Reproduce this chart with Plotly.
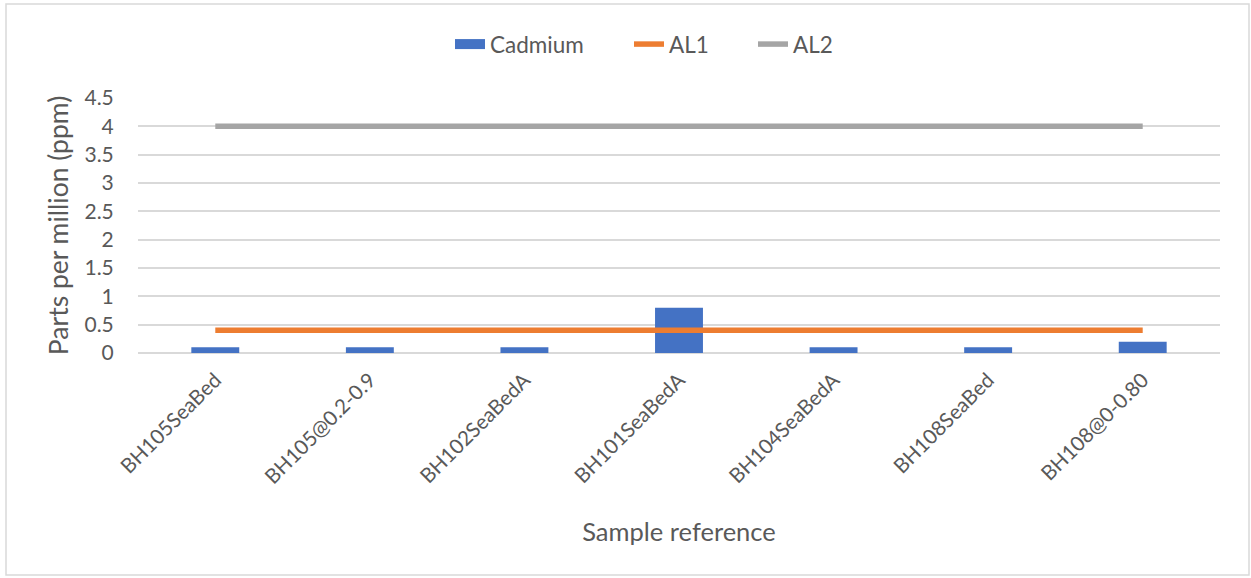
import plotly.graph_objects as go

samples = ["BH105SeaBed", "BH105@0.2-0.9", "BH102SeaBedA", "BH101SeaBedA",
           "BH104SeaBedA", "BH108SeaBed", "BH108@0-0.80"]
cadmium = [0.1, 0.1, 0.1, 0.8, 0.1, 0.1, 0.2]
al1 = [0.4, 0.4, 0.4, 0.4, 0.4, 0.4, 0.4]
al2 = [4, 4, 4, 4, 4, 4, 4]
y_ticks = [0, 0.5, 1, 1.5, 2, 2.5, 3, 3.5, 4, 4.5]

FONT = "Lato, 'Open Sans', sans-serif"
TXT = "#595959"
BLUE, ORANGE, GREY = "#4472C4", "#ED7D31", "#A5A5A5"

PLOT_L, PLOT_W = 138, 1082


def px_to_paper(px):
    return (px - PLOT_L) / PLOT_W


fig = go.Figure()
fig.add_trace(go.Bar(x=samples, y=cadmium, name="Cadmium", showlegend=False,
                     marker=dict(color=BLUE, line=dict(width=0)), width=0.31))
# wide swatch for the bar series in its legend
fig.add_trace(go.Scatter(x=[None], y=[None], name="Cadmium", mode="lines",
                         line=dict(color=BLUE, width=10), legend="legend"))
fig.add_trace(go.Scatter(x=samples, y=al1, name="AL1", mode="lines",
                         line=dict(color=ORANGE, width=5.5), legend="legend2"))
fig.add_trace(go.Scatter(x=samples, y=al2, name="AL2", mode="lines",
                         line=dict(color=GREY, width=5.5), legend="legend3"))

# outer chart border
fig.add_shape(type="rect", xref="paper", yref="paper",
              x0=-0.1220, x1=1.0268, y0=-0.8706, y1=1.3686,
              line=dict(color="#D9D9D9", width=1.5))

leg_common = dict(orientation="h", xanchor="left", y=1.21, yanchor="middle",
                  font=dict(size=22.5, color=TXT), bgcolor="rgba(0,0,0,0)")

fig.update_layout(
    width=1251, height=578,
    margin=dict(l=PLOT_L, r=31, t=98, b=225, autoexpand=False),
    paper_bgcolor="white", plot_bgcolor="white",
    font=dict(family=FONT, color=TXT, size=18),
    showlegend=True,
    legend=dict(x=px_to_paper(450), **leg_common),
    legend2=dict(x=px_to_paper(629), **leg_common),
    legend3=dict(x=px_to_paper(753), **leg_common),
    bargap=0.69,
)
fig.update_xaxes(
    type="category", tickangle=-45, tickfont=dict(size=20.5, color=TXT),
    showgrid=False, showline=False, ticks="outside", ticklen=6, tickcolor="rgba(0,0,0,0)",
    title=dict(text="Sample reference", font=dict(size=25.5, color=TXT), standoff=36),
)
fig.update_yaxes(
    range=[0, 4.5], tickvals=y_ticks, ticktext=[f"{v:g}" for v in y_ticks],
    tickfont=dict(size=21, color=TXT), showgrid=True, gridcolor="#D9D9D9", gridwidth=1.5,
    zeroline=True, zerolinecolor="#D9D9D9", zerolinewidth=1.5, showline=False,
    ticks="outside", ticklen=19, tickcolor="rgba(0,0,0,0)",
    title=dict(text="Parts per million (ppm)", font=dict(size=26.5, color=TXT), standoff=8),
)

fig.write_html("out.html")
